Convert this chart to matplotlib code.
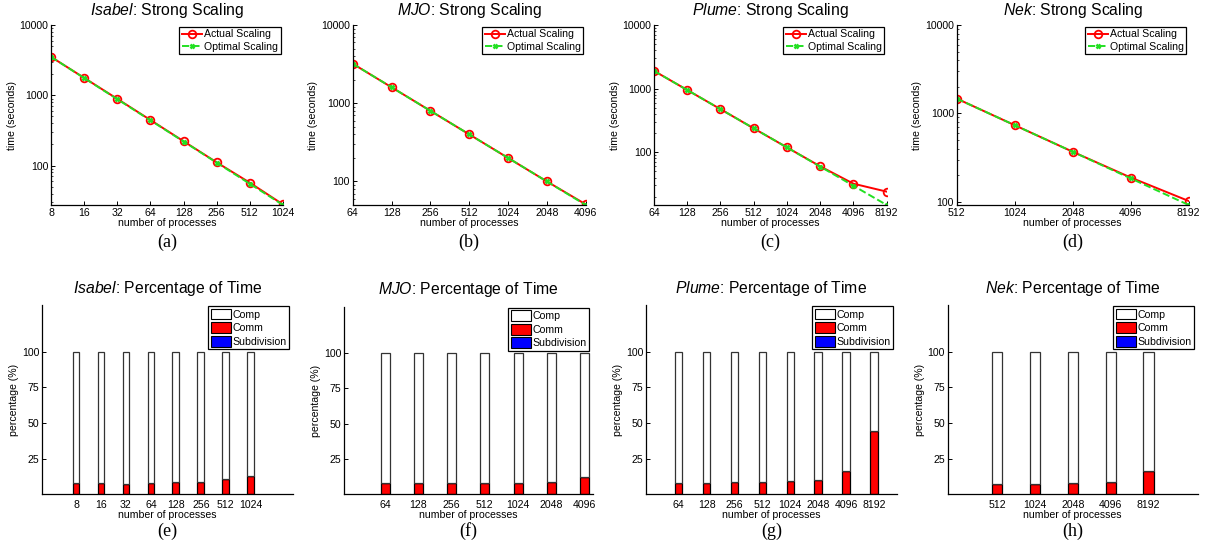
import numpy as np
import matplotlib
matplotlib.use("Agg")
import matplotlib.pyplot as plt
from matplotlib.ticker import FixedLocator, FixedFormatter, LogLocator, NullFormatter, NullLocator
from matplotlib.patches import Patch

plt.rcParams['font.family'] = ['Liberation Sans', 'DejaVu Sans']
plt.rcParams['mathtext.fontset'] = 'custom'
plt.rcParams['mathtext.rm'] = 'Liberation Sans'
plt.rcParams['mathtext.it'] = 'Liberation Sans:italic'

# datos
names = ['Isabel', 'MJO', 'Plume', 'Nek']
panel_top = ['(a)', '(b)', '(c)', '(d)']
panel_bot = ['(e)', '(f)', '(g)', '(h)']

isabel_procs = [8, 16, 32, 64, 128, 256, 512, 1024]
isabel_actual = [3520, 1770, 890, 445, 222, 111, 57, 28]
isabel_optimal = [3520, 1760, 880, 440, 220, 110, 55, 27.5]
isabel_comm = [7.7, 7.7, 7.5, 7.7, 8.4, 8.9, 10.7, 12.9]
isabel_subdiv = [0, 0, 0, 0, 0, 0, 0, 0]

mjo_procs = [64, 128, 256, 512, 1024, 2048, 4096]
mjo_actual = [3200, 1600, 800, 400, 200, 100, 51]
mjo_optimal = [3200, 1600, 800, 400, 200, 100, 50]
mjo_comm = [7.8, 7.8, 7.8, 7.8, 8.2, 8.9, 12.5]
mjo_subdiv = [0, 0, 0, 0, 0, 0, 0]

plume_procs = [64, 128, 256, 512, 1024, 2048, 4096, 8192]
plume_actual = [1900, 950, 475, 237, 119, 60, 32, 24]
plume_optimal = [1900, 950, 475, 237.5, 118.8, 59.4, 29.7, 14.8]
plume_comm = [7.9, 7.9, 8.4, 8.6, 9.3, 10.3, 16.4, 44.6]
plume_subdiv = [0, 0, 0, 0, 0, 0, 0, 0]

nek_procs = [512, 1024, 2048, 4096, 8192]
nek_actual = [1470, 735, 368, 188, 102]
nek_optimal = [1470, 735, 367.5, 183.8, 91.9]
nek_comm = [7.5, 7.5, 8.2, 8.6, 16.4]
nek_subdiv = [0, 0, 0, 0, 0]

procs = [isabel_procs, mjo_procs, plume_procs, nek_procs]
actual = [isabel_actual, mjo_actual, plume_actual, nek_actual]
optimal = [isabel_optimal, mjo_optimal, plume_optimal, nek_optimal]
comm = [isabel_comm, mjo_comm, plume_comm, nek_comm]
subdiv = [isabel_subdiv, mjo_subdiv, plume_subdiv, nek_subdiv]

W, H = 1212, 547
fig = plt.figure(figsize=(W / 100, H / 100), dpi=100)

def rect(x0, y0, x1, y1):
    return [x0 / W, 1 - y1 / H, (x1 - x0) / W, (y1 - y0) / H]

top_rects = [(51, 25, 283, 205), (352.7, 25, 585.7, 205),
             (654, 25, 886.7, 205), (956.7, 25, 1188.7, 205)]
bot_rects = [(42, 305, 293, 494.3), (344.3, 306.7, 592.7, 494.3),
             (646, 305, 896.7, 494.3), (947.7, 305, 1197.7, 494.3)]
bar_pad = [(1.36, 1.69), (1.235, 0.25), (1.17, 0.81), (1.31, 1.30)]

RED = '#ff0000'
GREEN = '#22e022'
FS = 7.6

def style_axes(ax):
    for s in ['top', 'right']:
        ax.spines[s].set_visible(False)
    for s in ['left', 'bottom']:
        ax.spines[s].set_linewidth(0.9)
    ax.tick_params(direction='in', length=3, width=0.7, labelsize=FS, pad=2)
    ax.tick_params(which='minor', direction='in', length=1.5, width=0.5)

for i in range(4):
    # fila superior: escalado fuerte
    ax = fig.add_axes(rect(*top_rects[i]))
    style_axes(ax)
    ax.set_xscale('log', base=2)
    ax.set_yscale('log')
    ax.plot(procs[i], actual[i], '-o', color=RED, lw=1.4, ms=5.5,
            mfc='none', mec=RED, mew=1.3, label='Actual Scaling')
    ax.plot(procs[i], optimal[i], '--x', color=GREEN, lw=1.4, ms=3.5,
            mew=1.8, label='Optimal Scaling')
    ax.set_xlim(procs[i][0], procs[i][-1])
    ax.set_ylim(min(min(actual[i]), min(optimal[i])), 10000)
    ax.xaxis.set_major_locator(FixedLocator(procs[i]))
    ax.xaxis.set_major_formatter(FixedFormatter([str(p) for p in procs[i]]))
    ax.xaxis.set_minor_locator(NullLocator())
    ax.yaxis.set_major_locator(FixedLocator([100, 1000, 10000]))
    ax.yaxis.set_major_formatter(FixedFormatter(['100', '1000', '10000']))
    ax.yaxis.set_minor_locator(LogLocator(base=10, subs=np.arange(2, 10)))
    ax.yaxis.set_minor_formatter(NullFormatter())
    ax.set_xlabel('number of processes', fontsize=FS, labelpad=0)
    ax.set_ylabel('time (seconds)', fontsize=FS, labelpad=2)
    ax.set_title(r'$\it{' + names[i] + r'}$: Strong Scaling', fontsize=11.3, pad=7)
    leg = ax.legend(loc='upper right', bbox_to_anchor=(0.99, 0.99), borderaxespad=0,
                    fontsize=FS, fancybox=False, framealpha=1, edgecolor='black',
                    handlelength=1.9, handletextpad=0.2, borderpad=0.25,
                    labelspacing=0.2)
    leg.get_frame().set_linewidth(0.9)
    x0, y0, x1, y1 = top_rects[i]
    fig.text((x0 + x1) / 2 / W, 1 - 242 / H, panel_top[i], ha='center', va='center',
             fontsize=13, family='Liberation Serif')

    # fila inferior: porcentaje de tiempo
    ax = fig.add_axes(rect(*bot_rects[i]))
    style_axes(ax)
    n = len(procs[i])
    xs = np.arange(n)
    c = np.array(comm[i])
    s = np.array(subdiv[i])
    comp = 100 - c - s
    w = 0.27
    ax.bar(xs, c, w, color=RED, edgecolor='black', lw=0.9)
    ax.bar(xs, s, w, bottom=c, color='#0000ff', edgecolor='black', lw=0.9)
    ax.bar(xs, comp, w, bottom=c + s, color='white', edgecolor='#333333', lw=0.9)
    ax.set_xlim(-bar_pad[i][0], n - 1 + bar_pad[i][1])
    ax.set_ylim(0, 132.7)
    ax.set_xticks(xs)
    ax.set_xticklabels([str(p) for p in procs[i]])
    ax.tick_params(axis='x', length=0, pad=4)
    ax.set_yticks([25, 50, 75, 100])
    ax.set_xlabel('number of processes', fontsize=FS, labelpad=0)
    ax.set_ylabel('percentage (%)', fontsize=FS, labelpad=2)
    ax.set_title(r'$\it{' + names[i] + r'}$: Percentage of Time', fontsize=11.3, pad=9)
    handles = [Patch(facecolor='white', edgecolor='black', lw=0.8),
               Patch(facecolor=RED, edgecolor='black', lw=0.8),
               Patch(facecolor='#0000ff', edgecolor='black', lw=0.8)]
    leg = ax.legend(handles, ['Comp', 'Comm', 'Subdivision'], loc='upper right',
                    bbox_to_anchor=(0.985, 0.995), borderaxespad=0,
                    fontsize=FS, fancybox=False, framealpha=1, edgecolor='black',
                    handlelength=1.9, handleheight=1.2, handletextpad=0.15,
                    borderpad=0.25, labelspacing=0.25)
    leg.get_frame().set_linewidth(0.9)
    x0, y0, x1, y1 = bot_rects[i]
    fig.text((x0 + x1) / 2 / W, 1 - 531 / H, panel_bot[i], ha='center', va='center',
             fontsize=13, family='Liberation Serif')

fig.savefig('out.png', dpi=100)
